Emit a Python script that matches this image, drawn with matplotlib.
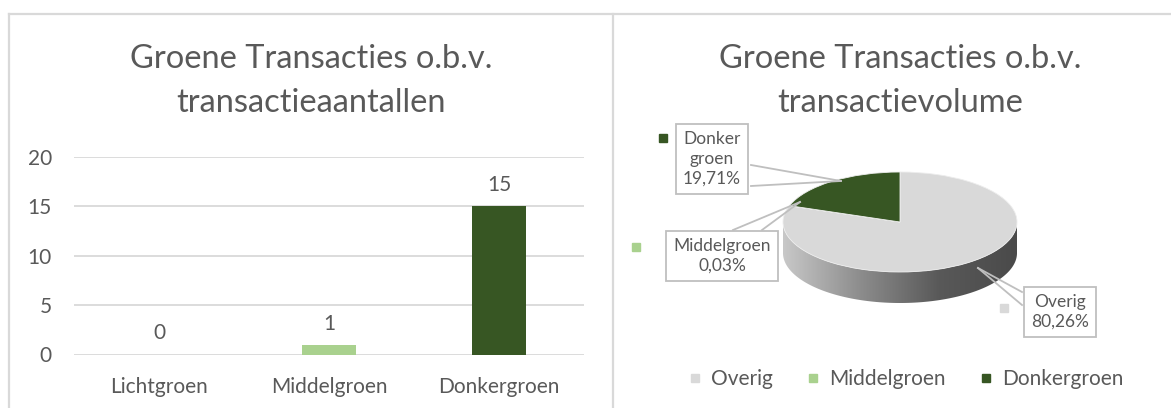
import numpy as np
import matplotlib
matplotlib.use("Agg")
import matplotlib.pyplot as plt
from matplotlib.patches import Polygon
from matplotlib.lines import Line2D
from matplotlib.colors import LinearSegmentedColormap

# ---- data ----
bar_categories = ["Lichtgroen", "Middelgroen", "Donkergroen"]
bar_values = [0, 1, 15]
bar_colors = ["#C5E0B4", "#A9D18E", "#375623"]
y_ticks = [0, 5, 10, 15, 20]

pie_labels = ["Overig", "Middelgroen", "Donkergroen"]
pie_values = [80.26, 0.03, 19.71]
pie_colors = ["#D9D9D9", "#A9D18E", "#375623"]
pie_callouts = ["Overig\n80,26%", "Middelgroen\n0,03%", "Donker\ngroen\n19,71%"]

title_left = "Groene Transacties o.b.v.\ntransactieaantallen"
title_right = "Groene Transacties o.b.v.\ntransactievolume"

FONT = "Lato"
TXT = "#595959"
W, H = 1171, 408
plt.rcParams["font.family"] = [FONT, "DejaVu Sans"]

fig = plt.figure(figsize=(W / 100, H / 100), dpi=100)
fig.patch.set_facecolor("white")


def fx(px):
    return px / W


def fy(py):
    return 1 - py / H


# panel frames
frame_col = "#D9D9D9"
for xs, ys in [([9, 1170], [14, 14]), ([9, 9], [14, 408]), ([613, 613], [14, 408])]:
    fig.add_artist(Line2D([fx(x) for x in xs], [fy(y) for y in ys], color=frame_col, lw=1.6))

# titles
for tx, t in [(311, title_left), (900, title_right)]:
    fig.text(fx(tx), fy(81), t, ha="center", va="center", fontsize=23.5, color=TXT,
             linespacing=1.62)

# ---- bar chart ----
ax = fig.add_axes([fx(74), fy(354.5), fx(584) - fx(74), fy(157) - fy(354.5)])
x = np.arange(len(bar_categories))
ax.bar(x, bar_values, width=0.32, color=bar_colors, zorder=3)
ax.set_xlim(-0.5, len(bar_categories) - 0.5)
ax.set_ylim(0, 20)
ax.set_yticks(y_ticks)
ax.set_xticks(x)
ax.set_xticklabels(bar_categories)
ax.grid(axis="y", color="#D9D9D9", lw=1.3, zorder=0)
for s in ax.spines.values():
    s.set_visible(False)
ax.tick_params(length=0, labelsize=15, labelcolor=TXT)
ax.tick_params(axis="x", pad=16)
ax.tick_params(axis="y", pad=16)
for xi, v in zip(x, bar_values):
    ax.annotate(str(v), (xi, v), xytext=(0, 8), textcoords="offset points",
                ha="center", va="bottom", fontsize=15, color=TXT)

# ---- pie chart (3D look) ----
cx, cy = 900, 222          # centre in pixels
rx, ry = 117, 50           # pixels per unit
depth = 0.62
pax = fig.add_axes([fx(620), 0, fx(1170) - fx(620), 1])
wedges, _ = pax.pie(pie_values, colors=pie_colors, startangle=90, counterclock=False,
                    wedgeprops=dict(edgecolor="#EDEDED", linewidth=0.6), radius=1)
pax.set_aspect("auto")
for w in wedges:
    w.set_zorder(3)

# side band with gradient
th = np.linspace(np.pi, 2 * np.pi, 200)
top = np.column_stack([np.cos(th), np.sin(th)])
bot = np.column_stack([np.cos(th[::-1]), np.sin(th[::-1]) - depth])
band = Polygon(np.vstack([top, bot]), closed=True, facecolor="none", edgecolor="none")
pax.add_patch(band)
grad = np.linspace(0, 1, 256)[None, :]
cmap = LinearSegmentedColormap.from_list("side", ["#C8C8C8", "#8C8C8C", "#595959", "#4A4A4A"])
im = pax.imshow(grad, cmap=cmap, extent=(-1, 1, -1 - depth, 0), aspect="auto", zorder=2)
im.set_clip_path(band)
pax.set_xlim((620 - cx) / rx, (1170 - cx) / rx)
pax.set_ylim((cy - H) / ry, cy / ry)
pax.axis("off")


def P(px, py):
    return ((px - cx) / rx, (cy - py) / ry)


def callout(text, box_center, tip, edge_pts, key_pt, color):
    pax.text(*P(*box_center), text, ha="center", va="center", fontsize=12.5, color=TXT,
             linespacing=1.3, zorder=6,
             bbox=dict(boxstyle="square,pad=0.4", facecolor="white", edgecolor="#BFBFBF", lw=1.3))
    for e in edge_pts:
        a, b = P(*e), P(*tip)
        pax.plot([a[0], b[0]], [a[1], b[1]], color="#BFBFBF", lw=1.3, zorder=5)
    kx, ky = P(*key_pt)
    pax.plot([kx], [ky], marker="s", ms=6, color=color, zorder=6, linestyle="none")


callout(pie_callouts[2], (712, 159), (841, 181), [(751, 165), (751, 186)], (663, 138), pie_colors[2])
callout(pie_callouts[1], (722, 256), (800, 202), [(733, 230), (762, 230)], (636, 247), pie_colors[1])
callout(pie_callouts[0], (1060, 312), (978, 268), [(1022, 292), (1022, 305)], (1004, 308), pie_colors[0])

# legend
handles = [Line2D([], [], marker="s", ms=6, color=c, linestyle="none") for c in pie_colors]
fig.legend(handles, pie_labels, loc="center", bbox_to_anchor=(fx(906), fy(379)), ncol=3,
           frameon=False, fontsize=15, labelcolor=TXT, handlelength=0.6, handletextpad=0.5,
           columnspacing=1.6)

fig.savefig("out.png", dpi=100, facecolor="white")
